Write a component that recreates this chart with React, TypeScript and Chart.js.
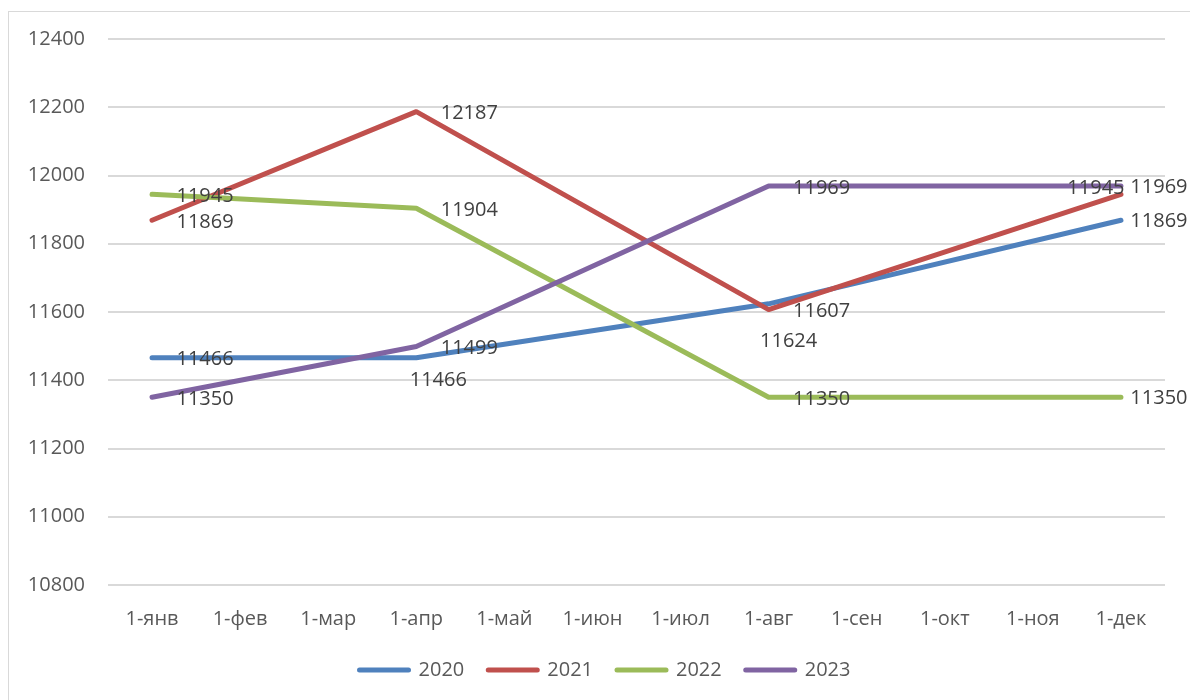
import React, { useEffect, useRef } from "react";
import { Chart, registerables } from "chart.js";

Chart.register(...registerables);

const FONT = "'Open Sans', 'Liberation Sans', sans-serif";

const months = ["1-янв", "1-фев", "1-мар", "1-апр", "1-май", "1-июн", "1-июл", "1-авг", "1-сен", "1-окт", "1-ноя", "1-дек"];
const seriesNames = ["2020", "2021", "2022", "2023"];
const values2020 = [11466, null, null, 11466, null, null, null, 11624, null, null, null, 11869];
const values2021 = [11869, null, null, 12187, null, null, null, 11607, null, null, null, 11945];
const values2022 = [11945, null, null, 11904, null, null, null, 11350, null, null, null, 11350];
const values2023 = [11350, null, null, 11499, null, null, null, 11969, null, null, null, 11969];
const yMin = 10800;
const yMax = 12400;
const yStep = 200;

const colors = ["#4F81BD", "#C0504D", "#9BBB59", "#8064A2"];

// label placement (style only): offsets of label centre from its point
const PLACE: Record<string, [number, number]> = {
  right: [53, 2],
  edge: [38, 1],
  left: [-25, -6],
  belowA: [22, 23],
  belowB: [20, 37],
};
const placements = [
  ["right", "belowA", "belowB", "edge"],
  ["right", "right", "right", "left"],
  ["right", "right", "right", "edge"],
  ["right", "right", "right", "edge"],
];

const labelPlugin = {
  id: "pointLabels",
  afterLayout(chart: any) {
    if (chart.legend) {
      chart.legend.left += 18;
      chart.legend.right += 18;
    }
  },
  afterDatasetsDraw(chart: any) {
    const ctx = chart.ctx;
    ctx.save();
    ctx.font = `20px ${FONT}`;
    ctx.fillStyle = "#404040";
    ctx.textAlign = "center";
    ctx.textBaseline = "middle";
    chart.data.datasets.forEach((ds: any, di: number) => {
      const meta = chart.getDatasetMeta(di);
      let k = 0;
      ds.data.forEach((v: number | null, i: number) => {
        if (v == null) return;
        const el = meta.data[i];
        const [dx, dy] = PLACE[placements[di][k]];
        k++;
        ctx.fillText(String(v), el.x + dx, el.y + dy);
      });
    });
    ctx.restore();
  },
};

export default function App() {
  const ref = useRef<HTMLCanvasElement>(null);
  useEffect(() => {
    const all = [values2020, values2021, values2022, values2023];
    const chart = new Chart(ref.current!, {
      type: "line",
      data: {
        labels: months,
        datasets: all.map((d, i) => ({
          label: seriesNames[i],
          data: d,
          borderColor: colors[i],
          backgroundColor: colors[i],
          borderWidth: 5,
          borderCapStyle: "round",
          borderJoinStyle: "round",
          pointRadius: 0,
          pointHoverRadius: 0,
          spanGaps: true,
          tension: 0,
          order: 3 - i,
        })),
      },
      options: {
        animation: false,
        responsive: true,
        maintainAspectRatio: false,
        layout: { padding: { left: 0, right: 25, top: 27, bottom: 10 } },
        font: { family: FONT, size: 20 },
        scales: {
          x: {
            offset: true,
            grid: { display: false, drawTicks: false },
            border: { display: false },
            ticks: {
              autoSkip: false,
              maxRotation: 0,
              padding: 22,
              color: "#595959",
              font: { family: FONT, size: 20 },
            },
            afterFit: (s: any) => {
              s.height = 51;
            },
          },
          y: {
            min: yMin,
            max: yMax,
            grid: { color: "#d9d9d9", lineWidth: 2, drawTicks: false },
            border: { display: false },
            ticks: {
              stepSize: yStep,
              padding: 23,
              color: "#595959",
              font: { family: FONT, size: 20 },
              callback: (v: any) => String(v),
            },
            afterFit: (s: any) => {
              s.width = 99;
              s.paddingTop = 0;
              s.paddingBottom = 0;
            },
          },
        },
        plugins: {
          tooltip: { enabled: false },
          legend: {
            position: "bottom",
            labels: {
              usePointStyle: true,
              pointStyle: "line",
              pointStyleWidth: 49,
              padding: 24,
              color: "#595959",
              font: { family: FONT, size: 20 },
              sort: (a: any, b: any) => a.datasetIndex - b.datasetIndex,
              generateLabels: (chart: any) =>
                (Chart.defaults.plugins.legend.labels as any)
                  .generateLabels(chart)
                  .map((l: any) => ({
                    ...l,
                    lineWidth: 5,
                    lineCap: "round",
                    strokeStyle: colors[l.datasetIndex],
                  })),
            },
          },
        },
      },
      plugins: [labelPlugin],
    } as any);
    return () => chart.destroy();
  }, []);
  return (
    <div
      style={{
        position: "absolute",
        left: 8,
        top: 11,
        width: 1182,
        height: 689,
        boxSizing: "border-box",
        borderTop: "1px solid #d9d9d9",
        borderLeft: "1px solid #d9d9d9",
        background: "#fff",
      }}
    >
      <div style={{ position: "relative", width: "100%", height: "100%" }}>
        <canvas ref={ref} />
      </div>
    </div>
  );
}
